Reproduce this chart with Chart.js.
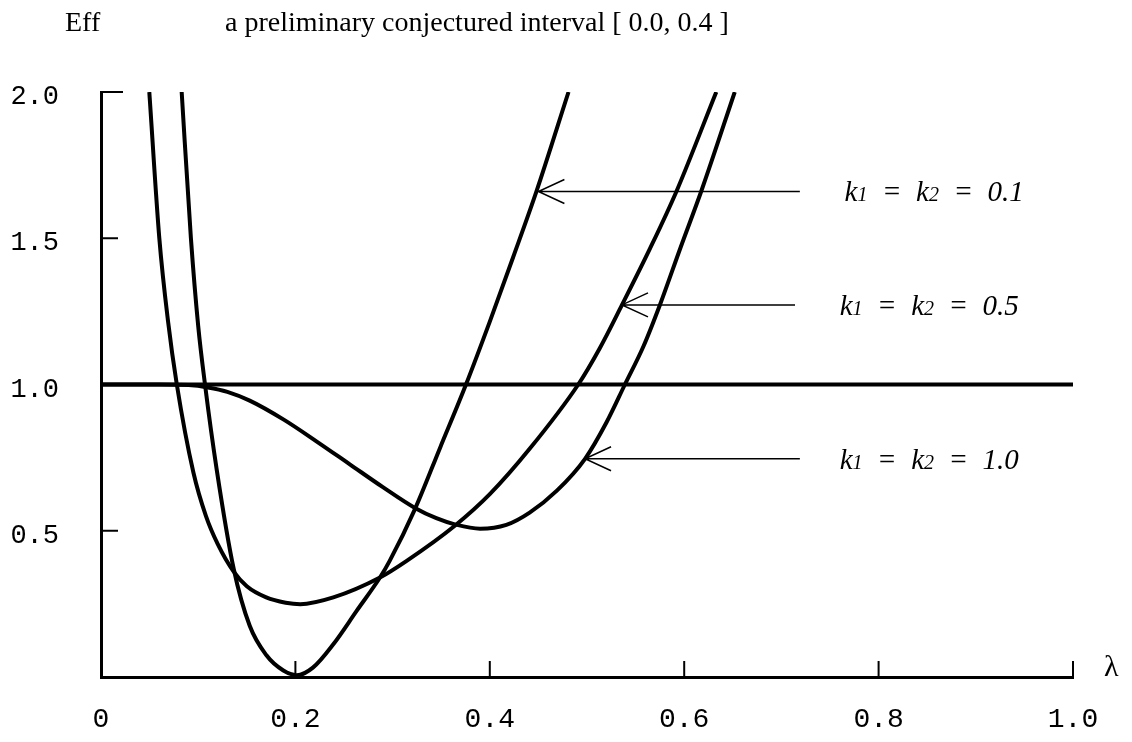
<!DOCTYPE html>
<html lang="en">
<head>
  <meta charset="UTF-8" />
  <title>Eff</title>
  <script src="https://cdn.jsdelivr.net/npm/chart.js"></script>
  <style>
    body {
      background-color: #ffffff;
      margin: 0;
      padding: 0;
    }
    canvas {
      display: block;
    }
  </style>
</head>
<body>
  <canvas id="effChart" width="1132" height="742"></canvas>

  <script>
    // === data ===
    const xTicks = [0, 0.2, 0.4, 0.6, 0.8, 1.0];
    const xTickLabels = ['0', '0.2', '0.4', '0.6', '0.8', '1.0'];
    const yTicks = [0, 0.5, 1.0, 1.5, 2.0];
    const yTickLabels = ['', '0.5', '1.0', '1.5', '2.0'];

    // k1 = k2 = 0.1
    const lambdaK01 = [0.083, 0.0925, 0.100, 0.107, 0.119, 0.1365, 0.153, 0.170, 0.1876, 0.2013,
                       0.218, 0.239, 0.263, 0.287, 0.297, 0.323, 0.349, 0.3755, 0.400, 0.424, 0.448, 0.481];
    const effK01 =    [2.00, 1.50, 1.20, 1.00, 0.71, 0.37, 0.175, 0.075, 0.022, 0.006,
                       0.032, 0.112, 0.226, 0.34, 0.397, 0.574, 0.785, 1.00, 1.215, 1.435, 1.66, 2.00];

    // k1 = k2 = 0.5
    const lambdaK05 = [0.0497, 0.060, 0.069, 0.078, 0.095, 0.108, 0.120, 0.1365, 0.150, 0.170, 0.190, 0.205,
                       0.239, 0.287, 0.3145, 0.364, 0.400, 0.441, 0.491, 0.513, 0.536, 0.565, 0.592, 0.633];
    const effK05 =    [2.00, 1.50, 1.215, 1.00, 0.70, 0.55, 0.455, 0.36, 0.31, 0.272, 0.254, 0.249,
                       0.272, 0.34, 0.397, 0.517, 0.625, 0.78, 1.00, 1.123, 1.272, 1.466, 1.66, 2.00];

    // k1 = k2 = 1.0
    const lambdaK10 = [0.0, 0.06, 0.09, 0.110, 0.130, 0.153, 0.188, 0.222, 0.256, 0.290, 0.323, 0.345, 0.364,
                       0.390, 0.417, 0.441, 0.469, 0.498, 0.520, 0.539, 0.558, 0.575, 0.596, 0.618, 0.652];
    const effK10 =    [1.00, 1.00, 0.998, 0.99, 0.975, 0.945, 0.88, 0.805, 0.727, 0.649, 0.578, 0.543, 0.522,
                       0.507, 0.52, 0.562, 0.637, 0.746, 0.87, 1.00, 1.13, 1.272, 1.466, 1.665, 2.00];

    // reference line Eff = 1
    const lambdaRef = [0, 1.0];
    const effRef = [1.0, 1.0];

    // labels with the point each arrow points at
    const kValues = ['0.1', '0.5', '1.0'];
    const arrowLambda = [0.450, 0.536, 0.498];
    const arrowEff = [1.66, 1.272, 0.746];
    const arrowEndLambda = [0.719, 0.714, 0.719];
    const labelLambda = [0.765, 0.760, 0.760];

    const toPoints = (xs, ys) => xs.map((v, i) => ({ x: v, y: ys[i] }));

    function curve(xs, ys) {
      return {
        data: toPoints(xs, ys),
        borderColor: '#000',
        borderWidth: 4,
        pointRadius: 0,
        fill: false,
        cubicInterpolationMode: 'monotone'
      };
    }

    // draws "k1 = k2 = v" with small indices
    function drawK(ctx, x, y, value) {
      const big = 'italic 29px "Liberation Serif", "DejaVu Serif", serif';
      const small = 'italic 20px "Liberation Serif", "DejaVu Serif", serif';
      const sp = '\u2002';
      const parts = [['k', big], ['1', small], [sp + '=' + sp + 'k', big], ['2', small], [sp + '=' + sp + value, big]];
      parts.forEach(([txt, font]) => {
        ctx.font = font;
        ctx.fillText(txt, x, y);
        x += ctx.measureText(txt).width;
      });
    }

    const extras = {
      id: 'extras',
      afterDraw(chart) {
        const { ctx, scales: { x, y } } = chart;
        ctx.save();
        ctx.strokeStyle = '#000';
        ctx.fillStyle = '#000';

        // tick marks drawn inside the plot
        ctx.lineWidth = 2;
        yTicks.forEach(v => {
          if (v === 0 || v === 1.0) return;
          const py = y.getPixelForValue(v);
          ctx.beginPath();
          ctx.moveTo(x.left, py);
          ctx.lineTo(x.left + (v === 2.0 ? 22 : 17), py);
          ctx.stroke();
        });
        xTicks.forEach(v => {
          if (v === 0) return;
          const px = x.getPixelForValue(v);
          ctx.beginPath();
          ctx.moveTo(px, y.bottom);
          ctx.lineTo(px, y.bottom - 16);
          ctx.stroke();
        });

        // arrows and labels
        ctx.lineWidth = 1.5;
        kValues.forEach((k, i) => {
          const tx = x.getPixelForValue(arrowLambda[i]);
          const ty = y.getPixelForValue(arrowEff[i]);
          const ex = x.getPixelForValue(arrowEndLambda[i]);
          ctx.beginPath();
          ctx.moveTo(ex, ty);
          ctx.lineTo(tx, ty);
          ctx.moveTo(tx + 26, ty - 12);
          ctx.lineTo(tx, ty);
          ctx.lineTo(tx + 26, ty + 12);
          ctx.stroke();
          ctx.textBaseline = 'alphabetic';
          ctx.textAlign = 'left';
          drawK(ctx, x.getPixelForValue(labelLambda[i]), ty + 10, k);
        });

        // headings
        ctx.font = '28px "Liberation Serif", "DejaVu Serif", serif';
        ctx.fillText('Eff', 65, 31);
        ctx.fillText('a preliminary conjectured interval [ 0.0, 0.4 ]', 225, 31);
        ctx.font = '30px "Liberation Serif", "DejaVu Serif", serif';
        ctx.fillText('λ', 1104, 676);
        ctx.restore();
      }
    };

    const ctxEff = document.getElementById('effChart').getContext('2d');
    const chartEff = new Chart(ctxEff, {
      type: 'line',
      data: {
        datasets: [
          curve(lambdaRef, effRef),
          curve(lambdaK01, effK01),
          curve(lambdaK05, effK05),
          curve(lambdaK10, effK10)
        ]
      },
      options: {
        responsive: false,
        animation: false,
        layout: { padding: { top: 92, right: 59, bottom: 0, left: 0 } },
        plugins: {
          legend: { display: false },
          tooltip: { enabled: false }
        },
        scales: {
          x: {
            type: 'linear',
            min: 0,
            max: 1.0,
            grid: { display: false },
            border: { display: true, color: '#000', width: 3 },
            afterBuildTicks: scale => { scale.ticks = xTicks.map(v => ({ value: v })); },
            afterFit: scale => { scale.height = 65; },
            ticks: {
              color: '#000',
              padding: 18,
              maxRotation: 0,
              autoSkip: false,
              font: { family: '"Liberation Mono", "DejaVu Sans Mono", monospace', size: 28 },
              callback: value => xTickLabels[xTicks.indexOf(value)]
            }
          },
          y: {
            type: 'linear',
            min: 0,
            max: 2.0,
            grid: { display: false },
            border: { display: true, color: '#000', width: 3 },
            afterBuildTicks: scale => { scale.ticks = yTicks.map(v => ({ value: v })); },
            afterFit: scale => { scale.width = 101; },
            ticks: {
              color: '#000',
              padding: 34,
              labelOffset: 5,
              autoSkip: false,
              font: { family: '"Liberation Mono", "DejaVu Sans Mono", monospace', size: 27 },
              callback: value => yTickLabels[yTicks.indexOf(value)]
            }
          }
        }
      },
      plugins: [extras]
    });
  </script>
</body>
</html>
